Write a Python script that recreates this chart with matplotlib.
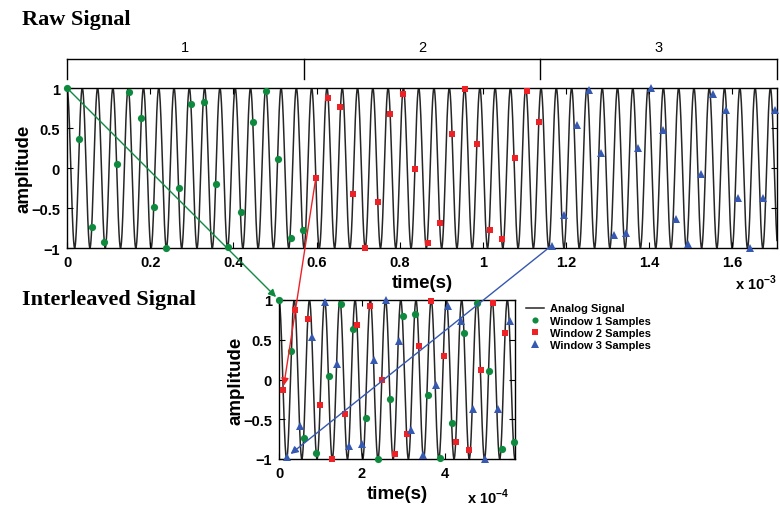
import numpy as np
import matplotlib
matplotlib.use("Agg")
import matplotlib.pyplot as plt
from matplotlib.patches import ConnectionPatch
from matplotlib.transforms import blended_transform_factory

# ---------------- Config ----------------
plt.rcParams["font.family"] = "Liberation Sans"
plt.rcParams["font.weight"] = "bold"
plt.rcParams["mathtext.fontset"] = "custom"
plt.rcParams["mathtext.rm"] = "Liberation Sans:bold"
plt.rcParams["mathtext.bf"] = "Liberation Sans:bold"

GREEN = "#0E8A3E"
RED = "#EE2226"
BLUE = "#3558B0"
SIG_COLOR = "#262626"

# ---------------- Data ----------------
SIGNAL_FREQ_HZ = 27200          # analog cosine, ~15.3 px per period
RAW_XMAX_MS = 1.707             # top axis extent, in 1e-3 s
INTERLEAVED_XMAX = 5.7          # bottom axis extent, in 1e-4 s
WINDOW_EDGES_MS = [0.0, 0.569, 1.138, 1.707]
WINDOW_LABELS = ["1", "2", "3"]
INTERLEAVE_OFFSET_MS = [0.0, 0.01, 0.02]

w1_t = [0.000, 0.030, 0.060, 0.090, 0.120, 0.149, 0.179, 0.209, 0.239, 0.269,
        0.299, 0.329, 0.359, 0.388, 0.418, 0.448, 0.478, 0.508, 0.538, 0.568]
w1_v = [1.00, 0.36, -0.74, -0.92, 0.05, 0.95, 0.63, -0.49, -1.00, -0.25,
        0.80, 0.83, -0.20, -0.99, -0.55, 0.58, 0.96, 0.11, -0.88, -0.78]

w2_t = [0.598, 0.627, 0.657, 0.687, 0.717, 0.747, 0.777, 0.807, 0.837, 0.867,
        0.896, 0.926, 0.956, 0.986, 1.016, 1.046, 1.076, 1.106, 1.135]
w2_v = [-0.13, 0.87, 0.76, -0.32, -1.00, -0.43, 0.68, 0.92, -0.01, -0.94,
        -0.69, 0.42, 0.99, 0.30, -0.78, -0.89, 0.12, 0.96, 0.58]

w3_t = [1.165, 1.195, 1.225, 1.255, 1.285, 1.315, 1.345, 1.374, 1.404, 1.434,
        1.464, 1.494, 1.524, 1.554, 1.584, 1.613, 1.643, 1.673, 1.703]
w3_v = [-0.97, -0.59, 0.54, 0.98, 0.19, -0.84, -0.81, 0.25, 1.00, 0.48,
        -0.64, -0.95, -0.07, 0.92, 0.73, -0.37, -1.00, -0.37, 0.73]

windows = [
    (w1_t, w1_v, GREEN, "o", 5.2, "Window 1 Samples"),
    (w2_t, w2_v, RED, "s", 5.0, "Window 2 Samples"),
    (w3_t, w3_v, BLUE, "^", 6.4, "Window 3 Samples"),
]

# ---------------- Figure ----------------
fig = plt.figure(figsize=(7.8, 5.06), dpi=100)
W, H = 780.0, 506.0
ax1 = fig.add_axes([67 / W, 1 - 249 / H, 710 / W, 160 / H])
ax2 = fig.add_axes([279 / W, 1 - 460 / H, 236 / W, 159 / H])

def style_axes(ax):
    ax.tick_params(direction="in", top=True, right=True, length=4, width=0.8,
                   labelsize=10.5, pad=5)
    for s in ax.spines.values():
        s.set_linewidth(1.0)
    ax.set_ylim(-1, 1)
    ax.set_yticks([-1, -0.5, 0, 0.5, 1])
    ax.set_yticklabels(["\u22121", "\u22120.5", "0", "0.5", "1"])
    ax.set_ylabel("amplitude", fontsize=13.5, fontweight="bold", labelpad=-1)
    ax.set_xlabel("time(s)", fontsize=13.5, fontweight="bold", labelpad=4)

# Raw signal (top)
t_raw = np.linspace(0, RAW_XMAX_MS * 1e-3, 4000)
ax1.plot(t_raw * 1e3, np.cos(2 * np.pi * SIGNAL_FREQ_HZ * t_raw),
         color=SIG_COLOR, lw=1.1, zorder=1)
for t, v, c, m, ms, lab in windows:
    ax1.plot(t, v, linestyle="none", marker=m, color=c, markersize=ms,
             markeredgewidth=0, zorder=3, clip_on=False)
ax1.set_xlim(0, RAW_XMAX_MS)
ax1.set_xticks([0, 0.2, 0.4, 0.6, 0.8, 1, 1.2, 1.4, 1.6])
ax1.set_xticklabels(["0", "0.2", "0.4", "0.6", "0.8", "1", "1.2", "1.4", "1.6"])
style_axes(ax1)
ax1.text(1.0, -0.215, r"x 10$^{-3}$", transform=ax1.transAxes, ha="right",
         va="center", fontsize=10.5, fontweight="bold")

# window bracket above the raw signal
bt = blended_transform_factory(ax1.transData, ax1.transAxes)
y_top, y_low = 1 + 29 / 160, 1 + 9 / 160
ax1.plot([WINDOW_EDGES_MS[0], WINDOW_EDGES_MS[-1]], [y_top, y_top],
         color="black", lw=1.0, transform=bt, clip_on=False)
for xe in WINDOW_EDGES_MS:
    ax1.plot([xe, xe], [y_top, y_low], color="black", lw=1.0,
             transform=bt, clip_on=False)
for i, lab in enumerate(WINDOW_LABELS):
    xc = 0.5 * (WINDOW_EDGES_MS[i] + WINDOW_EDGES_MS[i + 1])
    ax1.text(xc, 1 + 41 / 160, lab, transform=bt, ha="center", va="center",
             fontsize=10.5, fontweight="normal")

# Interleaved signal (bottom)
t_int = np.linspace(0, INTERLEAVED_XMAX * 1e-4, 2000)
ax2.plot(t_int * 1e4, np.cos(2 * np.pi * SIGNAL_FREQ_HZ * t_int),
         color=SIG_COLOR, lw=1.1, zorder=1, label="Analog Signal")
inter_pts = []
for (t, v, c, m, ms, lab), off in zip(windows, INTERLEAVE_OFFSET_MS):
    ti = [(x - t[0] + off) * 10 for x in t]   # ms -> 1e-4 s
    inter_pts.append((ti, v))
    ax2.plot(ti, v, linestyle="none", marker=m, color=c, markersize=ms,
             markeredgewidth=0, zorder=3, clip_on=False, label=lab)
ax2.set_xlim(0, INTERLEAVED_XMAX)
ax2.set_xticks([0, 2, 4])
style_axes(ax2)
ax2.text(0.975, -0.235, r"x 10$^{-4}$", transform=ax2.transAxes, ha="right",
         va="center", fontsize=10.5, fontweight="bold")

leg = ax2.legend(loc="upper left", bbox_to_anchor=(522 / W, 1 - 300 / H),
                 bbox_transform=fig.transFigure, frameon=False, fontsize=8,
                 handlelength=1.6, handletextpad=0.5, labelspacing=0.2,
                 borderaxespad=0, markerscale=0.85)
for txt in leg.get_texts():
    txt.set_fontweight("bold")

# titles
fig.text(22 / W, 1 - 20 / H, "Raw Signal", fontsize=16, fontweight="bold",
         family="Liberation Serif", va="center", ha="left")
fig.text(22 / W, 1 - 300 / H, "Interleaved Signal", fontsize=16,
         fontweight="bold", family="Liberation Serif", va="center", ha="left")

# arrows from each window's first sample to its interleaved position
for (t, v, c, m, ms, lab), (ti, vi) in zip(windows, inter_pts):
    con = ConnectionPatch(xyA=(t[0], v[0]), coordsA=ax1.transData,
                          xyB=(ti[0], vi[0]), coordsB=ax2.transData,
                          arrowstyle="-|>", color=c, lw=1.0,
                          mutation_scale=11, shrinkA=0, shrinkB=3)
    fig.add_artist(con)

fig.savefig("out.png", dpi=100)
